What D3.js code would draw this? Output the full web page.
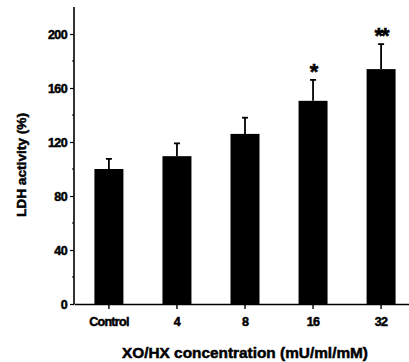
<!DOCTYPE html>
<html>
<head>
<meta charset="utf-8">
<script src="https://cdn.jsdelivr.net/npm/d3@7"></script>
<style>
  body { margin: 0; background: #fff; }
  svg text { font-family: "Liberation Sans", Arial, sans-serif; font-weight: bold; fill: #000; stroke: #000; stroke-width: 0.5px; }
</style>
</head>
<body>
<div id="chart"></div>
<script>
// chart data
const categories = ["Control", "4", "8", "16", "32"];
const ldhValues = [100, 109.5, 126, 150.5, 174];
const ldhErrors = [7.5, 9.5, 12, 15.5, 18.5];
const marks = ["", "", "", "*", "**"];
const yTicks = [0, 40, 80, 120, 160, 200];
const yMinorTicks = [20, 60, 100, 140, 180];

const W = 409, H = 362;
const svg = d3.select("#chart").append("svg")
    .attr("width", W)
    .attr("height", H);

// scales
const x = d3.scaleBand()
    .domain(categories)
    .range([74, 416])
    .paddingInner(0.574)
    .paddingOuter(0.3);

const y = d3.scaleLinear()
    .domain([0, 220])
    .range([304, 7]);

// y axis
const yAxis = svg.append("g")
    .attr("transform", "translate(74,0)")
    .call(d3.axisLeft(y).tickValues(yTicks).tickSize(4).tickPadding(3).tickSizeOuter(0));
yAxis.select(".domain").remove();
yAxis.selectAll("text").style("font-size", "12.5px").attr("dy", "0.36em").attr("letter-spacing", "-0.6px");
yAxis.selectAll("line").attr("stroke-width", 1.2);

svg.append("g")
    .selectAll("line")
    .data(yMinorTicks)
    .enter()
    .append("line")
    .attr("x1", 72)
    .attr("x2", 74)
    .attr("y1", d => y(d))
    .attr("y2", d => y(d))
    .attr("stroke", "#000")
    .attr("stroke-width", 1.2);

svg.append("line")
    .attr("x1", 74).attr("x2", 74)
    .attr("y1", y(220)).attr("y2", y(0))
    .attr("stroke", "#000")
    .attr("stroke-width", 1.6);

// bars
svg.selectAll(".bar")
    .data(categories)
    .enter()
    .append("rect")
    .attr("class", "bar")
    .attr("x", d => x(d))
    .attr("y", (d, i) => y(ldhValues[i]))
    .attr("width", x.bandwidth())
    .attr("height", (d, i) => y(0) - y(ldhValues[i]))
    .attr("fill", "#000");

// error bars (upper only)
const cx = d => x(d) + x.bandwidth() / 2;
svg.selectAll(".err")
    .data(categories)
    .enter()
    .append("line")
    .attr("class", "err")
    .attr("x1", cx).attr("x2", cx)
    .attr("y1", (d, i) => y(ldhValues[i]))
    .attr("y2", (d, i) => y(ldhValues[i] + ldhErrors[i]))
    .attr("stroke", "#000")
    .attr("stroke-width", 1.8);

svg.selectAll(".cap")
    .data(categories)
    .enter()
    .append("line")
    .attr("class", "cap")
    .attr("x1", d => cx(d) - 3).attr("x2", d => cx(d) + 3)
    .attr("y1", (d, i) => y(ldhValues[i] + ldhErrors[i]))
    .attr("y2", (d, i) => y(ldhValues[i] + ldhErrors[i]))
    .attr("stroke", "#000")
    .attr("stroke-width", 1.8);

// significance marks
svg.selectAll(".sig")
    .data(categories)
    .enter()
    .append("text")
    .attr("class", "sig")
    .attr("x", cx)
    .attr("y", (d, i) => y(ldhValues[i] + ldhErrors[i]) - 1)
    .attr("text-anchor", "middle")
    .attr("letter-spacing", "-2px")
    .style("font-size", "22px")
    .text((d, i) => marks[i]);

// x axis
const xAxis = svg.append("g")
    .attr("transform", "translate(0,304)")
    .call(d3.axisBottom(x).tickSize(5).tickPadding(8).tickSizeOuter(0));
xAxis.select(".domain").attr("stroke-width", 1.6);
xAxis.selectAll("line").attr("stroke-width", 1.4);
xAxis.selectAll("text").style("font-size", "12.5px").attr("letter-spacing", "-0.7px");

// axis titles
svg.append("text")
    .attr("transform", "translate(26,165) rotate(-90)")
    .attr("text-anchor", "middle")
    .attr("textLength", 104)
    .attr("lengthAdjust", "spacingAndGlyphs")
    .style("font-size", "13.5px")
    .text("LDH activity (%)");

svg.append("text")
    .attr("x", 245)
    .attr("y", 358)
    .attr("text-anchor", "middle")
    .attr("textLength", 246)
    .attr("lengthAdjust", "spacingAndGlyphs")
    .style("font-size", "15px")
    .text("XO/HX concentration (mU/ml/mM)");
</script>
</body>
</html>
